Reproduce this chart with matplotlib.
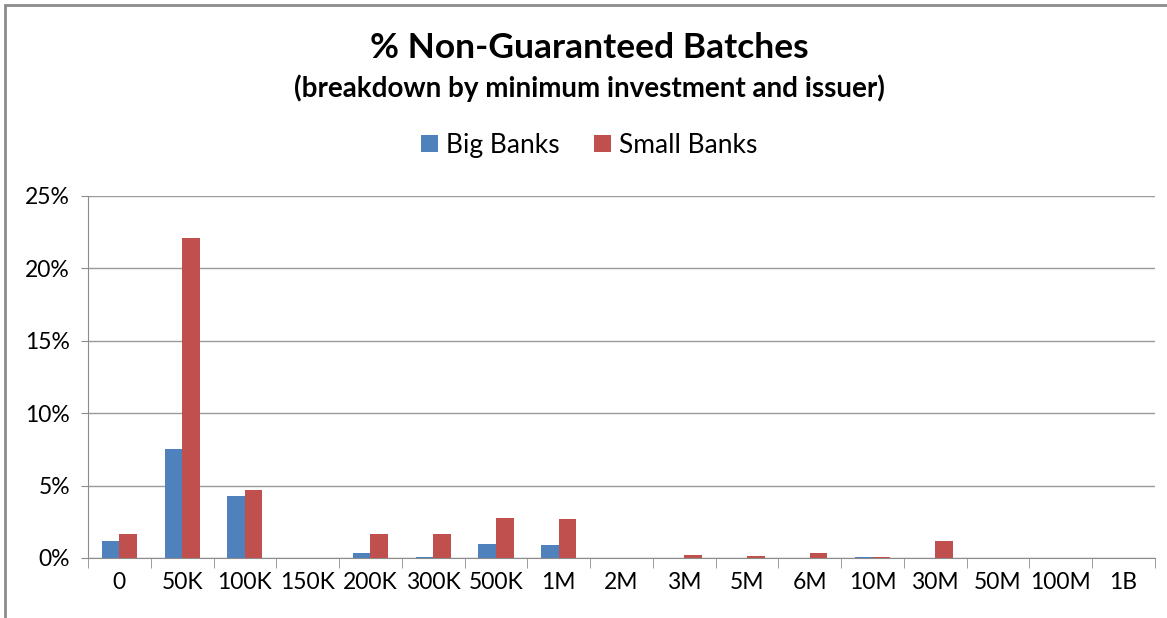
import numpy as np
import matplotlib.pyplot as plt
from matplotlib.patches import Rectangle

plt.rcParams['font.family'] = ['Lato', 'DejaVu Sans']

## dati ##
categorie = ['0', '50K', '100K', '150K', '200K', '300K', '500K', '1M', '2M',
             '3M', '5M', '6M', '10M', '30M', '50M', '100M', '1B']
big_banks = [1.15, 7.55, 4.28, 0, 0.35, 0.07, 0.95, 0.88, 0,
             0, 0, 0, 0.09, 0, 0, 0, 0]
small_banks = [1.64, 22.1, 4.7, 0, 1.64, 1.64, 2.78, 2.72, 0,
               0.23, 0.16, 0.32, 0.08, 1.17, 0, 0, 0]
y_ticks = [0, 5, 10, 15, 20, 25]

col_big = '#4F81BD'
col_small = '#C0504D'

fig = plt.figure(figsize=(11.67, 6.18), dpi=100)
ax = fig.add_axes([0.0754, 0.0971, 0.9143, 0.5858])

x = np.arange(len(categorie))
w = 0.28
ax.bar(x - w/2, big_banks, w, color=col_big, label='Big Banks', zorder=3)
ax.bar(x + w/2, small_banks, w, color=col_small, label='Small Banks', zorder=3)

ax.set_xlim(-0.5, len(categorie) - 0.5)
ax.set_ylim(0, 25)
ax.set_yticks(y_ticks)
ax.set_yticklabels([f'{v}%' for v in y_ticks], fontsize=16.5)
ax.yaxis.grid(True, color='#9a9a9a', linewidth=1, zorder=0)

# etichette al centro, tacche tra le categorie
ax.set_xticks(x)
ax.set_xticklabels(categorie, fontsize=16.5)
ax.tick_params(axis='x', length=0, pad=10)
ax.set_xticks(np.arange(-0.5, len(categorie)), minor=True)
ax.tick_params(axis='x', which='minor', length=7, color='#8c8c8c')
ax.tick_params(axis='y', length=5, color='#8c8c8c', pad=8)

for s in ['top', 'right']:
    ax.spines[s].set_visible(False)
for s in ['left', 'bottom']:
    ax.spines[s].set_color('#8c8c8c')

fig.text(0.505, 0.922, '% Non-Guaranteed Batches', ha='center', va='center',
         fontsize=25.5, fontweight='bold')
fig.text(0.505, 0.857, '(breakdown by minimum investment and issuer)',
         ha='center', va='center', fontsize=20, fontweight='bold')
fig.legend(loc='center', bbox_to_anchor=(0.505, 0.765), ncol=2, frameon=False,
           fontsize=19, handlelength=0.65, handleheight=0.65, columnspacing=1.3,
           handletextpad=0.3)

# bordo del riquadro del grafico
fig.patches.append(Rectangle((0.004, -0.1), 1.2, 1.092, transform=fig.transFigure,
                             fill=False, edgecolor='#8c8c8c', linewidth=2))

fig.savefig('out.png', dpi=100)
